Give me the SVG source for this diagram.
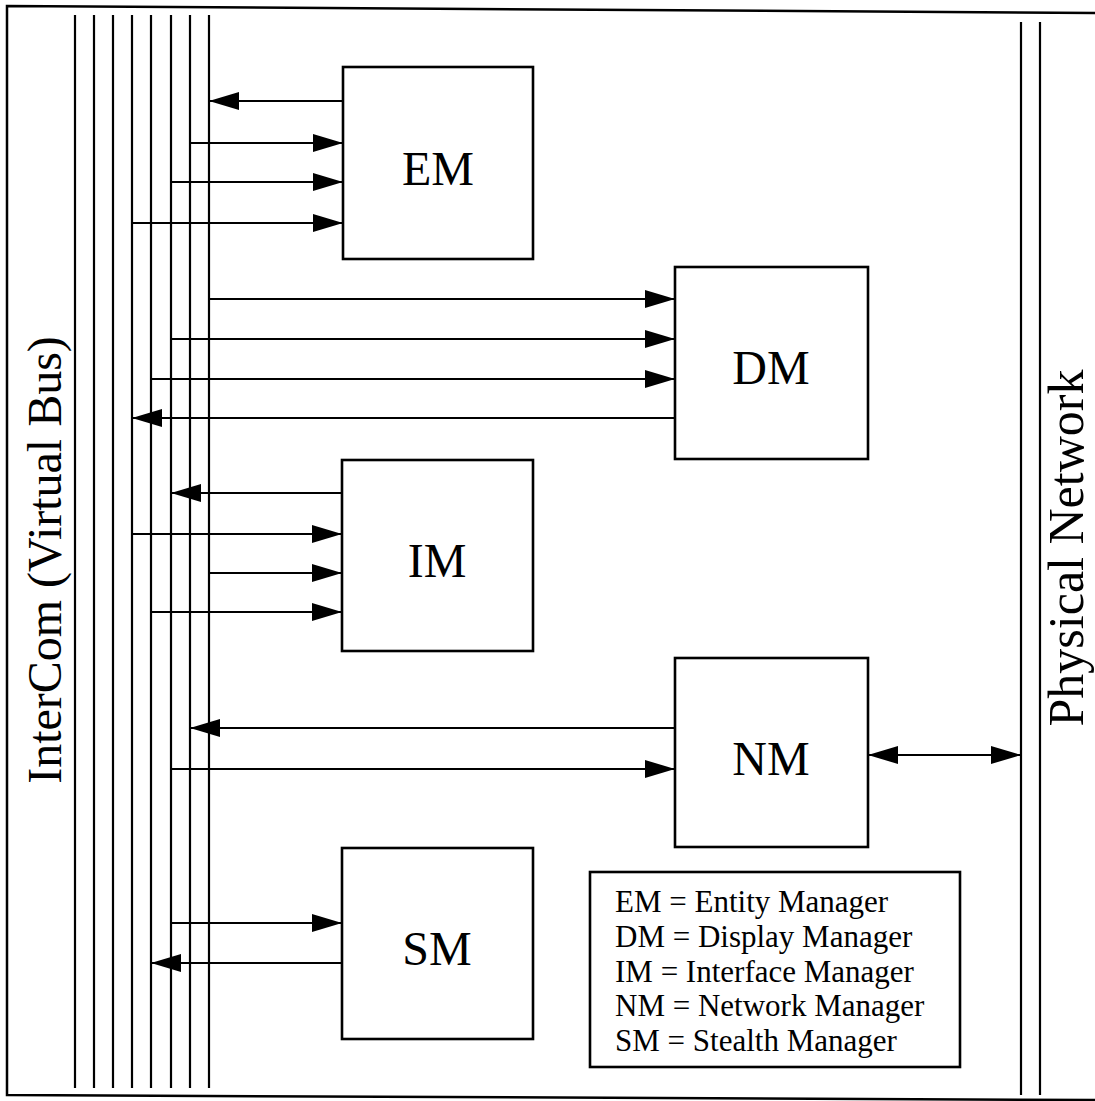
<svg xmlns="http://www.w3.org/2000/svg" width="1095" height="1101" viewBox="0 0 1095 1101">
<style>
.frame{fill:none;stroke:#000;stroke-width:2.5}
.bus{stroke:#000;stroke-width:2.2;fill:none}
.box{fill:#fff;stroke:#000;stroke-width:2.6}
.lbl{font-family:"Liberation Serif","Times New Roman",serif;font-size:48px;fill:#000;text-anchor:middle}
.leg{font-family:"Liberation Serif","Times New Roman",serif;font-size:31px;fill:#000}
.c{stroke:#000;stroke-width:2;fill:none;marker-end:url(#ah)}
.d{stroke:#000;stroke-width:2;fill:none;marker-end:url(#ah);marker-start:url(#ah)}
</style>
<defs>
<marker id="ah" markerUnits="userSpaceOnUse" markerWidth="30" markerHeight="18" refX="30" refY="9" orient="auto-start-reverse" viewBox="0 0 30 18">
<path d="M0,0 L30,9 L0,18 z" fill="#000"/>
</marker>
</defs>
<rect width="1095" height="1101" fill="#fff"/>
<path class="frame" d="M1095,13 L7,6 L7,1095 L1095,1100"/>
<g id="intercom-bus">
<line class="bus" x1="75" y1="15" x2="75" y2="1088"/>
<line class="bus" x1="94" y1="15" x2="94" y2="1088"/>
<line class="bus" x1="113" y1="15" x2="113" y2="1088"/>
<line class="bus" x1="132" y1="15" x2="132" y2="1088"/>
<line class="bus" x1="151" y1="15" x2="151" y2="1088"/>
<line class="bus" x1="171" y1="15" x2="171" y2="1088"/>
<line class="bus" x1="190" y1="15" x2="190" y2="1088"/>
<line class="bus" x1="209" y1="15" x2="209" y2="1088"/>
<text class="lbl" transform="translate(61,560) rotate(-90)">InterCom (Virtual Bus)</text>
</g>
<g id="physical-network">
<line class="bus" x1="1021" y1="22" x2="1021" y2="1095"/>
<line class="bus" x1="1040" y1="22" x2="1040" y2="1095"/>
<text class="lbl" style="font-size:50px" transform="translate(1083,548) rotate(-90)">Physical Network</text>
</g>
<g id="connectors">
<line class="c" x1="343" y1="101" x2="209" y2="101"/>
<line class="c" x1="190" y1="143" x2="343" y2="143"/>
<line class="c" x1="171" y1="182" x2="343" y2="182"/>
<line class="c" x1="132" y1="223" x2="343" y2="223"/>
<line class="c" x1="209" y1="299" x2="675" y2="299"/>
<line class="c" x1="171" y1="339" x2="675" y2="339"/>
<line class="c" x1="151" y1="379" x2="675" y2="379"/>
<line class="c" x1="675" y1="418" x2="132" y2="418"/>
<line class="c" x1="342" y1="493" x2="171" y2="493"/>
<line class="c" x1="132" y1="534" x2="342" y2="534"/>
<line class="c" x1="209" y1="573" x2="342" y2="573"/>
<line class="c" x1="151" y1="612" x2="342" y2="612"/>
<line class="c" x1="675" y1="728" x2="190" y2="728"/>
<line class="c" x1="171" y1="769" x2="675" y2="769"/>
<line class="d" x1="868" y1="755" x2="1021" y2="755"/>
<line class="c" x1="171" y1="923" x2="342" y2="923"/>
<line class="c" x1="342" y1="963" x2="151" y2="963"/>
</g>
<g id="EM">
<rect class="box" x="343" y="67" width="190" height="192"/>
<text class="lbl" x="438" y="185">EM</text>
</g>
<g id="DM">
<rect class="box" x="675" y="267" width="193" height="192"/>
<text class="lbl" x="771" y="384">DM</text>
</g>
<g id="IM">
<rect class="box" x="342" y="460" width="191" height="191"/>
<text class="lbl" x="437" y="577">IM</text>
</g>
<g id="NM">
<rect class="box" x="675" y="658" width="193" height="189"/>
<text class="lbl" x="771" y="775">NM</text>
</g>
<g id="SM">
<rect class="box" x="342" y="848" width="191" height="191"/>
<text class="lbl" x="437" y="965">SM</text>
</g>
<g id="legend">
<rect class="box" x="590" y="872" width="370" height="195"/>
<text class="leg" x="615" y="912">EM = Entity Manager</text>
<text class="leg" x="615" y="947">DM = Display Manager</text>
<text class="leg" x="615" y="982">IM = Interface Manager</text>
<text class="leg" x="615" y="1016">NM = Network Manager</text>
<text class="leg" x="615" y="1051">SM = Stealth Manager</text>
</g>
</svg>
